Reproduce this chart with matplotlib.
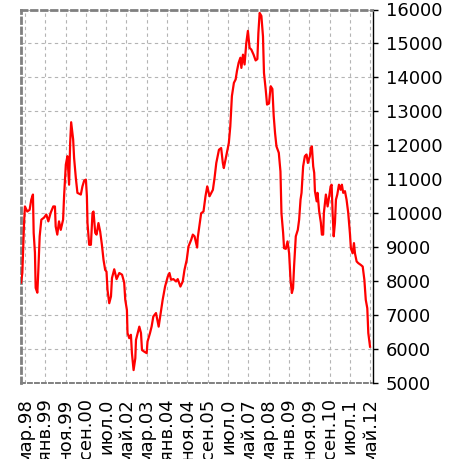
import matplotlib
matplotlib.use('agg')
import matplotlib.pyplot as plt
import matplotlib.dates as mdates
import pandas as pd

# weekly-ish closes
dates = [
    '1998-01-02', '1998-01-21', '1998-02-16', '1998-03-01', '1998-04-05', '1998-05-10',
    '1998-06-04', '1998-06-29', '1998-07-10', '1998-07-29', '1998-08-09', '1998-09-03',
    '1998-09-18', '1998-10-08', '1998-11-02', '1998-12-12', '1999-01-16', '1999-02-15',
    '1999-03-21', '1999-04-30', '1999-05-25', '1999-06-05', '1999-06-29', '1999-07-25',
    '1999-08-20', '1999-09-24', '1999-10-09', '1999-11-04', '1999-11-28', '1999-12-23',
    '2000-01-08', '2000-01-23', '2000-02-22', '2000-03-07', '2000-04-02', '2000-04-26',
    '2000-06-16', '2000-07-10', '2000-08-05', '2000-08-31', '2000-09-15', '2000-09-24',
    '2000-10-19', '2000-11-14', '2000-12-08', '2000-12-23', '2001-01-18', '2001-02-07',
    '2001-03-07', '2001-04-02', '2001-04-28', '2001-05-22', '2001-06-16', '2001-07-06',
    '2001-07-21', '2001-08-16', '2001-09-11', '2001-09-26', '2001-10-30', '2001-12-04',
    '2002-01-14', '2002-02-24', '2002-03-28', '2002-04-13', '2002-05-08', '2002-05-17',
    '2002-06-12', '2002-07-07', '2002-07-22', '2002-08-16', '2002-09-11', '2002-09-21',
    '2002-11-10', '2002-12-05', '2002-12-20', '2003-01-25', '2003-02-28', '2003-03-13',
    '2003-04-19', '2003-05-13', '2003-06-08', '2003-07-18', '2003-08-27', '2003-10-02',
    '2003-10-26', '2003-12-01', '2004-01-10', '2004-02-05', '2004-02-29', '2004-04-04',
    '2004-05-14', '2004-06-08', '2004-07-18', '2004-08-22', '2004-09-17', '2004-10-21',
    '2004-11-16', '2004-12-27', '2005-01-20', '2005-02-15', '2005-03-26', '2005-04-04',
    '2005-05-25', '2005-06-29', '2005-07-29', '2005-08-24', '2005-09-28', '2005-11-17',
    '2005-12-12', '2006-01-07', '2006-02-16', '2006-03-21', '2006-04-15', '2006-04-30',
    '2006-06-05', '2006-07-14', '2006-08-05', '2006-08-29', '2006-09-28', '2006-10-24',
    '2006-11-13', '2006-12-08', '2007-01-03', '2007-01-18', '2007-02-11', '2007-03-07',
    '2007-04-02', '2007-04-26', '2007-05-21', '2007-06-16', '2007-07-20', '2007-08-20',
    '2007-09-15', '2007-09-30', '2007-10-19', '2007-11-14', '2007-12-08', '2007-12-23',
    '2008-01-18', '2008-02-07', '2008-03-07', '2008-04-02', '2008-04-27', '2008-05-17',
    '2008-06-06', '2008-06-27', '2008-08-01', '2008-08-26', '2008-09-10', '2008-10-05',
    '2008-10-19', '2008-11-14', '2008-12-10', '2009-01-03', '2009-01-24', '2009-02-13',
    '2009-03-03', '2009-03-18', '2009-04-13', '2009-05-13', '2009-06-02', '2009-06-23',
    '2009-07-08', '2009-08-01', '2009-08-27', '2009-09-21', '2009-10-11', '2009-11-10',
    '2009-11-25', '2009-12-10', '2009-12-30', '2010-01-14', '2010-01-25', '2010-02-20',
    '2010-03-05', '2010-03-29', '2010-04-24', '2010-05-09', '2010-05-28', '2010-06-08',
    '2010-07-08', '2010-08-03', '2010-08-27', '2010-09-17', '2010-10-02', '2010-10-17',
    '2010-11-02', '2010-11-21', '2010-12-06', '2010-12-26', '2011-01-20', '2011-02-15',
    '2011-03-05', '2011-03-25', '2011-04-20', '2011-05-14', '2011-06-08', '2011-07-03',
    '2011-07-18', '2011-08-13', '2011-09-02', '2011-09-17', '2011-10-12', '2011-11-06',
    '2011-12-12', '2012-01-11', '2012-02-05', '2012-02-26', '2012-03-20', '2012-04-04',
    '2012-04-30',
]
values = [
    7960, 8240, 9720, 10200, 10050, 10100, 10400, 10550, 9420, 8840, 7800, 7660,
    8330, 9320, 9810, 9870, 9960, 9760, 10010, 10200, 10200, 9610, 9370, 9760,
    9510, 9810, 10500, 11430, 11680, 10840, 12070, 12680, 12170, 11630, 11040, 10600,
    10550, 10790, 10960, 10990, 10500, 9710, 9070, 9070, 10010, 10050, 9420, 9370,
    9710, 9460, 9070, 8630, 8330, 8280, 7740, 7350, 7550, 8090, 8350, 8060,
    8240, 8190, 7960, 7450, 7150, 6470, 6320, 6420, 5880, 5380, 5730, 6270,
    6660, 6470, 5970, 5920, 5880, 6220, 6470, 6660, 6960, 7060, 6660, 7130,
    7450, 7840, 8130, 8240, 8040, 8060, 7990, 8060, 7840, 7990, 8330, 8630,
    9020, 9220, 9370, 9320, 8990, 9280, 10000, 10050, 10500, 10790, 10500, 10690,
    11040, 11480, 11870, 11920, 11480, 11330, 11680, 12070, 12560, 13450, 13840, 13940,
    14190, 14430, 14580, 14280, 14670, 14380, 15020, 15370, 14870, 14820, 14670, 14500,
    14540, 15310, 15900, 15810, 15210, 14130, 13640, 13200, 13230, 13740, 13660, 12860,
    12360, 11970, 11780, 11230, 10000, 9420, 8970, 8950, 9170, 8820, 8040, 7650,
    7790, 8430, 9320, 9510, 9810, 10400, 10600, 11380, 11680, 11730, 11480, 11680,
    11920, 11970, 11380, 11190, 10650, 10350, 10600, 10060, 9720, 9370, 9370, 10010,
    10550, 10200, 10500, 10790, 10840, 10010, 9320, 9720, 10400, 10550, 10840, 10690,
    10840, 10600, 10650, 10400, 10010, 9420, 8970, 8820, 9120, 8820, 8580, 8530,
    8480, 8430, 8040, 7450, 7200, 6470, 6070,
]
tick_labels = ['мар.98', 'янв.99', 'ноя.99', 'сен.00', 'июл.0', 'май.02',
               'мар.03', 'янв.04', 'ноя.04', 'сен.05', 'июл.0', 'май.07',
               'мар.08', 'янв.09', 'ноя.09', 'сен.10', 'июл.1', 'май.12']
y_ticks = list(range(5000, 16001, 1000))

W, H = 462, 459
fig = plt.figure(figsize=(W / 100, H / 100), dpi=100)
ax = fig.add_axes([21 / W, (H - 383) / H, (372.5 - 21) / W, (383 - 9.5) / H])

x = pd.to_datetime(dates)
ax.plot(x, values, color='#ff0000', linewidth=1.6, zorder=3)

tick_dates = pd.date_range('1998-03-01', periods=len(tick_labels), freq='10MS')
ax.set_xticks(mdates.date2num(tick_dates))
ax.set_xticklabels(tick_labels, rotation=90, fontsize=13, family='DejaVu Sans')
ax.set_xlim(pd.Timestamp('1998-01-01'), pd.Timestamp('2012-06-06'))
ax.tick_params(axis='x', length=0, pad=11)

ax.set_ylim(5000, 16000)
ax.set_yticks(y_ticks)
ax.yaxis.tick_right()
ax.tick_params(axis='y', direction='out', length=3.5, width=1, pad=6,
               labelsize=13, colors='black')
ax.tick_params(axis='y', left=False, labelleft=False)

# light dotted grid, like the spreadsheet original
ax.grid(True, color='#b4b4b4', linewidth=0.8, linestyle=(0, (3, 3)))
for edge in ('left', 'top', 'bottom'):
    ax.spines[edge].set_color('#808080')
    ax.spines[edge].set_linestyle((0, (2, 1.6)))
    ax.spines[edge].set_linewidth(2)
ax.spines['bottom'].set_linewidth(1.4)
ax.spines['right'].set_color('black')
ax.spines['right'].set_linewidth(1)

fig.savefig('out.png', dpi=100)
